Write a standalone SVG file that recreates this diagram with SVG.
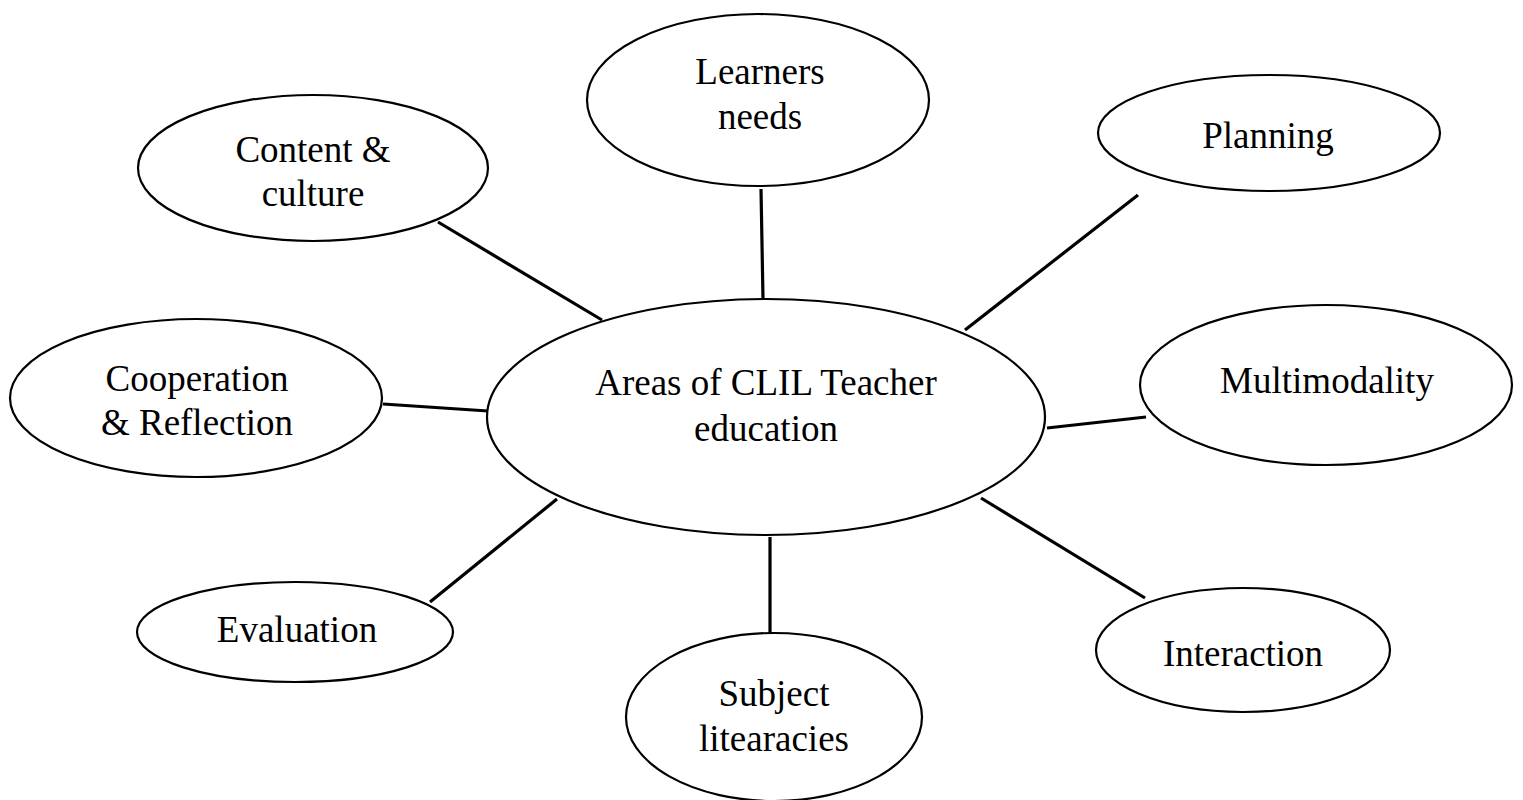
<svg xmlns="http://www.w3.org/2000/svg" width="1523" height="800" viewBox="0 0 1523 800">
<style>
.node ellipse{fill:#fff;stroke:#000;stroke-width:2.2}
.node text{font-family:"Liberation Serif","Times New Roman",serif;font-size:37px;fill:#000;text-anchor:middle}
#connectors line{stroke:#000;stroke-width:3.2}
</style>
<rect width="1523" height="800" fill="#fff"/>
<g id="connectors">
<line x1="438" y1="222" x2="602" y2="320"/>
<line x1="761" y1="189" x2="763" y2="299"/>
<line x1="1138" y1="195" x2="965" y2="330"/>
<line x1="383" y1="404" x2="488" y2="411"/>
<line x1="1047" y1="428" x2="1146" y2="417"/>
<line x1="430" y1="602" x2="557" y2="499"/>
<line x1="770" y1="537" x2="770" y2="633"/>
<line x1="981" y1="498" x2="1145" y2="598"/>
</g>
<g id="node-center" class="node">
<ellipse cx="766" cy="417" rx="279" ry="118"/>
<text x="766" y="395">Areas of CLIL Teacher</text>
<text x="766" y="441">education</text>
</g>
<g id="node-learners" class="node">
<ellipse cx="758" cy="100" rx="171" ry="86"/>
<text x="760" y="84">Learners</text>
<text x="760" y="129">needs</text>
</g>
<g id="node-content" class="node">
<ellipse cx="313" cy="168" rx="175" ry="73"/>
<text x="313" y="162">Content &amp;</text>
<text x="313" y="206">culture</text>
</g>
<g id="node-planning" class="node">
<ellipse cx="1269" cy="133" rx="171" ry="58"/>
<text x="1268" y="148">Planning</text>
</g>
<g id="node-cooperation" class="node">
<ellipse cx="196" cy="398" rx="186" ry="79"/>
<text x="197" y="391">Cooperation</text>
<text x="197" y="435">&amp; Reflection</text>
</g>
<g id="node-multimodality" class="node">
<ellipse cx="1326" cy="385" rx="186" ry="80"/>
<text x="1327" y="393">Multimodality</text>
</g>
<g id="node-evaluation" class="node">
<ellipse cx="295" cy="632" rx="158" ry="50"/>
<text x="297" y="642">Evaluation</text>
</g>
<g id="node-subject" class="node">
<ellipse cx="774" cy="717" rx="148" ry="84"/>
<text x="774" y="706">Subject</text>
<text x="774" y="751">litearacies</text>
</g>
<g id="node-interaction" class="node">
<ellipse cx="1243" cy="650" rx="147" ry="62"/>
<text x="1243" y="666">Interaction</text>
</g>
</svg>
